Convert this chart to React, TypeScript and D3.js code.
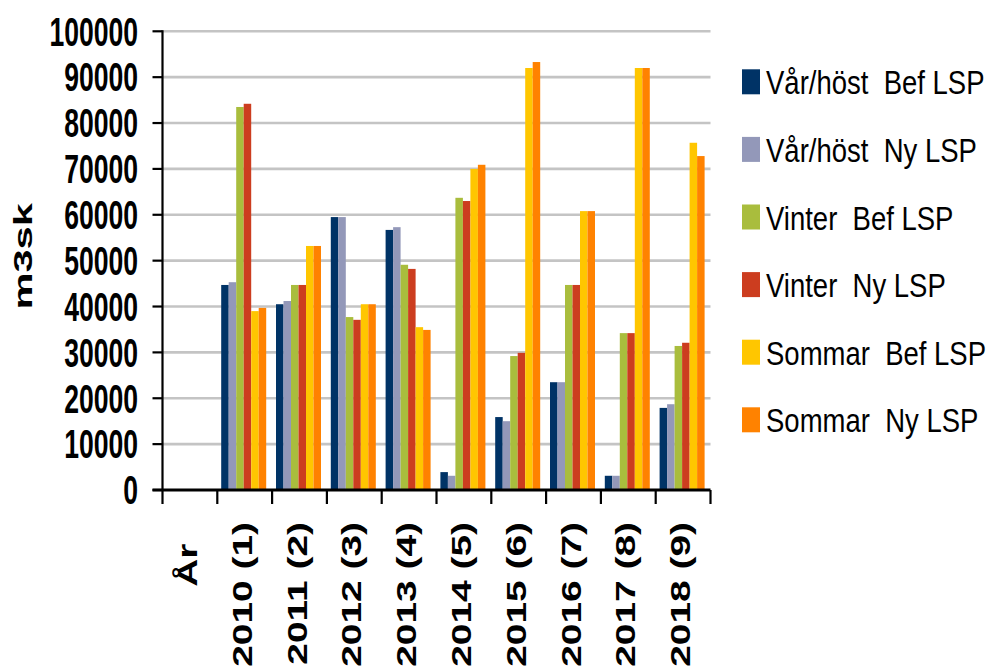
import React from "react";
import * as d3 from "d3";

// Categories along the x axis (the first one is the axis caption slot, with no data)
const categories = ["År  ", "2010 (1)", "2011 (2)", "2012 (3)", "2013 (4)", "2014 (5)", "2015 (6)", "2016 (7)", "2017 (8)", "2018 (9)"];
const years = categories.slice(1);

const seriesNames = [
  "Vår/höst  Bef LSP",
  "Vår/höst  Ny LSP",
  "Vinter  Bef LSP",
  "Vinter  Ny LSP",
  "Sommar  Bef LSP",
  "Sommar  Ny LSP",
];

const varhostBef = [44700, 40500, 59500, 56700, 3900, 15900, 23500, 3100, 17900];
const varhostNy = [45300, 41200, 59500, 57300, 3100, 15000, 23500, 3100, 18700];
const vinterBef = [83500, 44700, 37700, 49100, 63700, 29200, 44700, 34200, 31400];
const vinterNy = [84200, 44700, 37100, 48200, 63000, 29900, 44700, 34200, 32100];
const sommarBef = [39000, 53200, 40500, 35500, 70000, 92000, 60800, 92000, 75700];
const sommarNy = [39700, 53200, 40500, 34900, 70900, 93300, 60800, 92000, 72800];

const seriesValues = [varhostBef, varhostNy, vinterBef, vinterNy, sommarBef, sommarNy];
const seriesColors = ["#003366", "#9398b9", "#a9bd3d", "#cc3d1f", "#ffc600", "#ff8200"];

const yTicks = [0, 10000, 20000, 30000, 40000, 50000, 60000, 70000, 80000, 90000, 100000];
const yTitle = "m3sk";

const FONT = "'Liberation Sans', Arial, sans-serif";

export default function App() {
  const W = 994;
  const H = 671;
  const left = 162.5;
  const right = 710.5;
  const top = 31.3;
  const bottom = 490;

  const y = d3.scaleLinear().domain([0, 100000]).range([bottom, top]);
  const x0 = d3.scaleBand<string>().domain(categories).range([left, right]).padding(0);
  const x1 = d3
    .scaleBand<string>()
    .domain(seriesNames)
    .range([3.9, 48.9])
    .padding(0);

  const boundaries = d3.range(categories.length + 1).map((i) => left + i * x0.step());

  return (
    <svg
      width={W}
      height={H}
      style={{ position: "absolute", left: 0, top: 0, background: "#fff" }}
      fontFamily={FONT}
    >
      <rect x={0} y={0} width={W} height={H} fill="#fff" />

      {/* horizontal gridlines */}
      {yTicks.slice(1).map((t) => (
        <line key={"g" + t} x1={left} x2={right} y1={y(t)} y2={y(t)} stroke="#c4c4c4" strokeWidth={2.6} />
      ))}

      {/* bars */}
      {years.map((cat, ci) => (
        <g key={cat} transform={`translate(${x0(cat)},0)`}>
          {seriesNames.map((s, si) => {
            const v = seriesValues[si][ci];
            return (
              <rect
                key={s}
                x={x1(s)}
                width={x1.bandwidth()}
                y={y(v)}
                height={bottom - y(v)}
                fill={seriesColors[si]}
              />
            );
          })}
        </g>
      ))}

      {/* y axis */}
      <line x1={left} x2={left} y1={top - 1} y2={bottom} stroke="#000" strokeWidth={2.2} />
      {yTicks.map((t) => (
        <g key={"t" + t}>
          <line x1={152.5} x2={left} y1={y(t)} y2={y(t)} stroke="#000" strokeWidth={2.2} />
          <text
            transform={`translate(138,${y(t) + 14.3}) scale(0.83,1.25)`}
            textAnchor="end"
            fontSize={32}
            fontWeight="bold"
            fill="#000"
          >
            {t}
          </text>
        </g>
      ))}

      {/* x axis */}
      <line x1={152.5} x2={right} y1={bottom} y2={bottom} stroke="#000" strokeWidth={2.8} />
      {boundaries.map((bx, i) => (
        <line key={"xt" + i} x1={bx} x2={bx} y1={bottom} y2={bottom + 14} stroke="#000" strokeWidth={2.2} />
      ))}
      {categories.map((cat) => {
        const cx = (x0(cat) as number) + x0.bandwidth() / 2;
        return (
          <text
            key={"xl" + cat}
            transform={`translate(${cx + 7},522) scale(1,1.44) rotate(-90)`}
            textAnchor="end"
            fontSize={27}
            fontWeight="bold"
            fill="#000"
            style={{ whiteSpace: "pre" }}
          >
            {cat}
          </text>
        );
      })}

      {/* y axis title */}
      <text
        transform={`translate(31.7,256.3) scale(1,1.6) rotate(-90)`}
        textAnchor="middle"
        fontSize={26}
        fontWeight="bold"
        fill="#000"
      >
        {yTitle}
      </text>

      {/* legend */}
      {seriesNames.map((s, i) => {
        const ty = 69.3 + i * 67.6;
        return (
          <g key={"lg" + s}>
            <rect x={742} y={ty} width={18} height={25} fill={seriesColors[i]} />
            <text
              transform={`translate(766,${ty + 25}) scale(1,1.235)`}
              fontSize={27.5}
              fill="#000"
              style={{ whiteSpace: "pre" }}
            >
              {s}
            </text>
          </g>
        );
      })}
    </svg>
  );
}
